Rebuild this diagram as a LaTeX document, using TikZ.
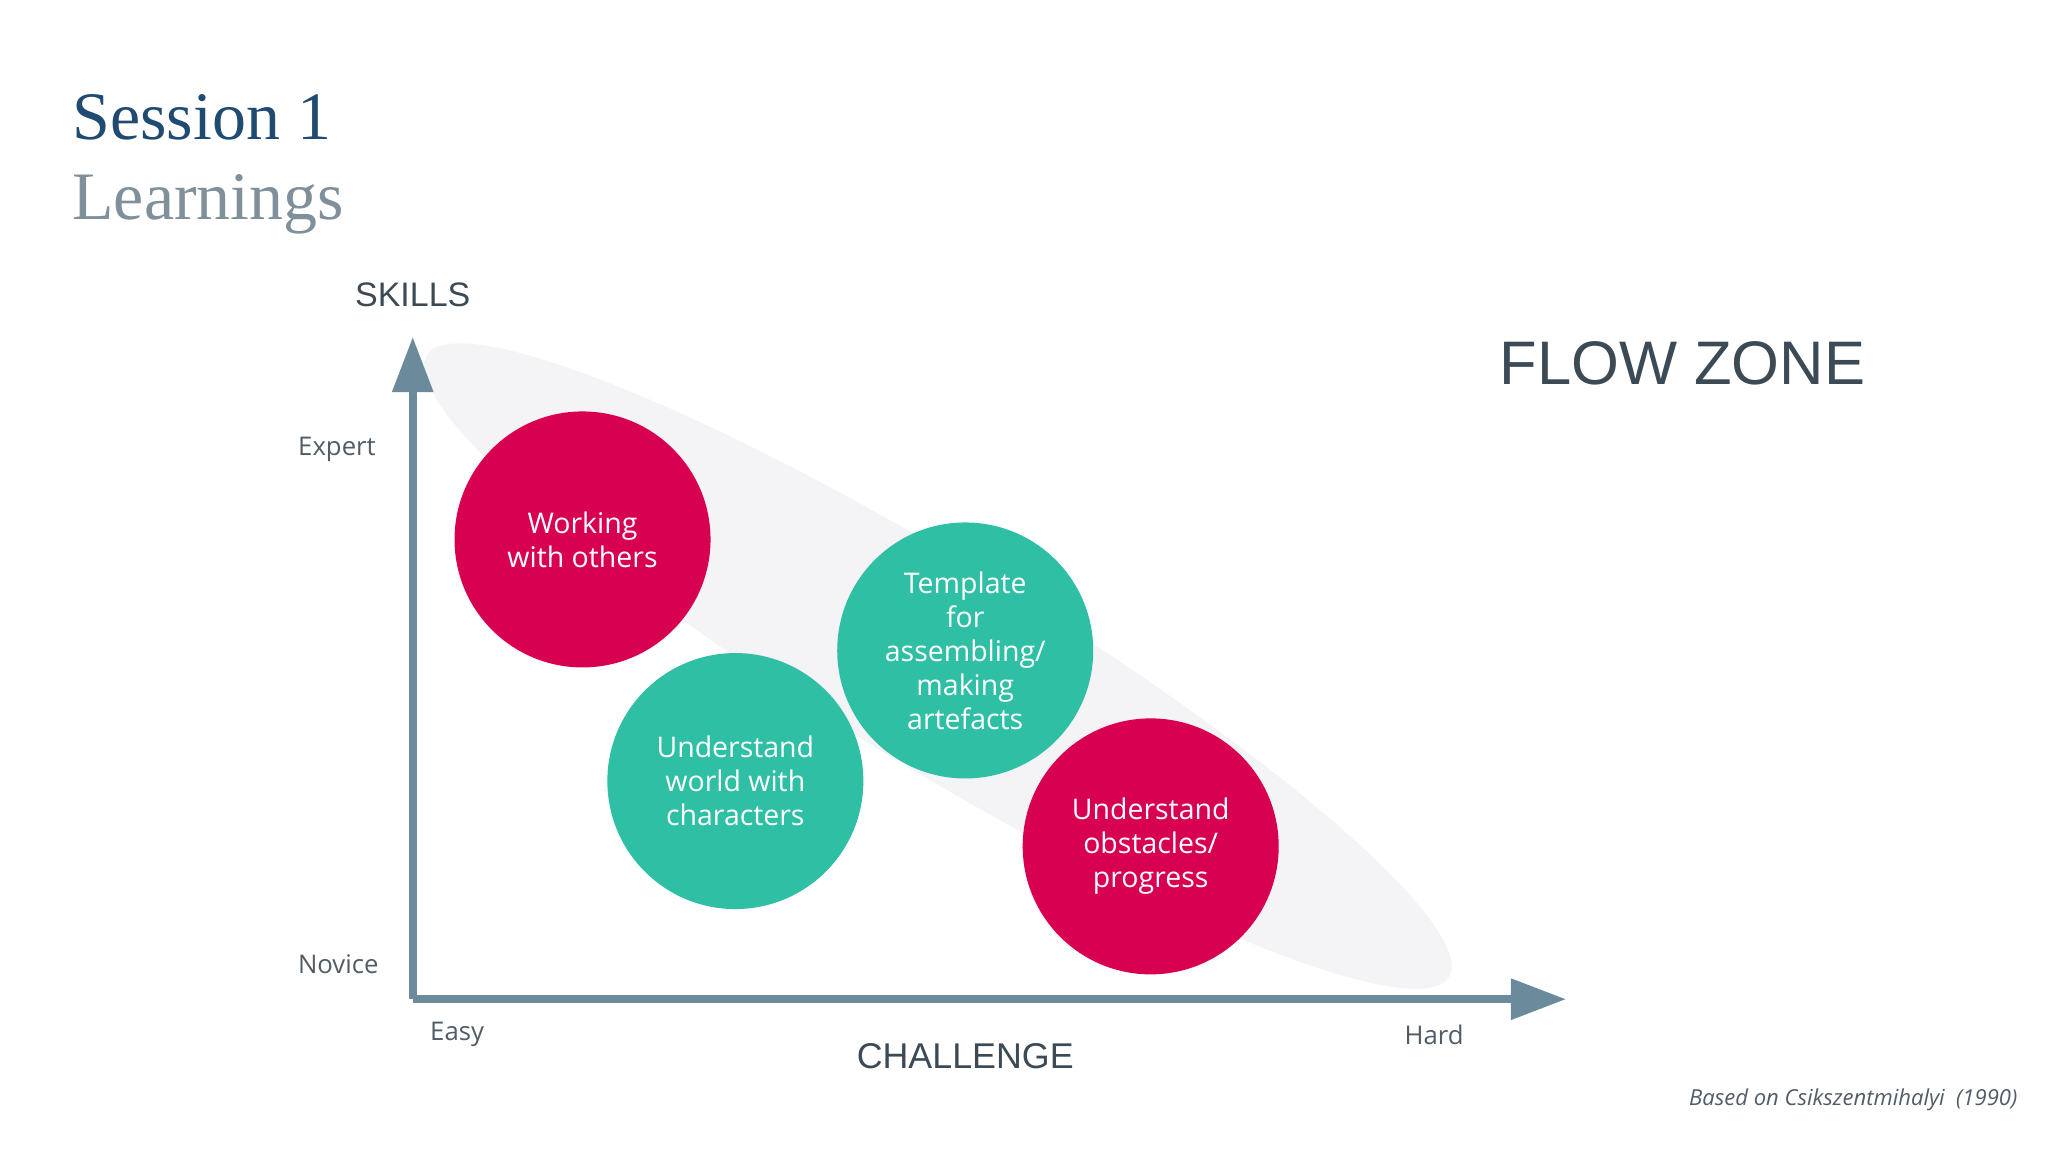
\documentclass[tikz,border=0pt]{standalone}
\usepackage{fontspec}
\setmainfont{Open Sans}
\newfontfamily\arialf{Liberation Sans}
\newfontfamily\serff{Liberation Serif}
\usetikzlibrary{arrows.meta}
\definecolor{mag}{HTML}{D80050}
\definecolor{teal}{HTML}{2FBFA5}
\definecolor{axis}{HTML}{6B8A9C}
\definecolor{dark}{HTML}{3C4A55}
\definecolor{ttl}{HTML}{1F4A72}
\definecolor{ttlg}{HTML}{7F909A}
\definecolor{ell}{HTML}{F4F3F6}
\begin{document}
\begin{tikzpicture}[x=0.05cm,y=-0.05cm,
  bub/.style={circle,minimum size=196*0.05cm,inner sep=0pt,text=white,align=center,font=\fontsize{31}{37}\selectfont},
  lab/.style={text=dark!90,font=\fontsize{28}{32}\selectfont},
  ax/.style={draw=axis,line width=8.5pt,-{Triangle[width=43pt,length=60pt]}}]
\useasboundingbox (0,0) rectangle (1568,882);
\fill[ell,rotate around={-31.3:(718,510)}] (718,510) ellipse (458 and 78);
\node[anchor=base west,text=ttl,font=\serff\fontsize{74}{80}\selectfont] (t1) at (53,107) {Session 1};
\node[anchor=base west,text=ttlg,font=\serff\fontsize{74}{80}\selectfont] (t2) at (53,168) {Learnings};
\coordinate (o) at (316,765);
\coordinate (yt) at (316,258);
\coordinate (xt) at (1199,765);
\draw[ax] (o) -- (yt);
\draw[ax] (o) -- (xt);
\node[text=dark,font=\arialf\fontsize{37}{40}\selectfont] (sk) at (316,226) {SKILLS};
\node[text=dark,font=\arialf\fontsize{39}{44}\selectfont] (ch) at (739,809) {CHALLENGE};
\node[text=dark,font=\arialf\fontsize{67}{72}\selectfont] (fz) at (1288,278) {FLOW ZONE};
\node[lab] (ex) at (258,344) {Expert};
\node[lab] (nv) at (259,738) {Novice};
\node[lab] (ea) at (350,792) {Easy};
\node[lab] (hd) at (1098,792) {Hard};
\node[bub,fill=mag] (c1) at (446,413) {Working\\with others};
\node[bub,fill=teal] (c2) at (563,598) {Understand\\world with\\characters};
\node[bub,fill=teal] (c3) at (739,498) {Template\\for\\assembling/\\making\\artefacts};
\node[bub,fill=mag] (c4) at (881,648) {Understand\\obstacles/\\progress};
\node[anchor=east,text=dark!90,font=\itshape\fontsize{24}{28}\selectfont] (cit) at (1547,842) {Based on Csikszentmihalyi\ \ (1990)};
\end{tikzpicture}
\end{document}
